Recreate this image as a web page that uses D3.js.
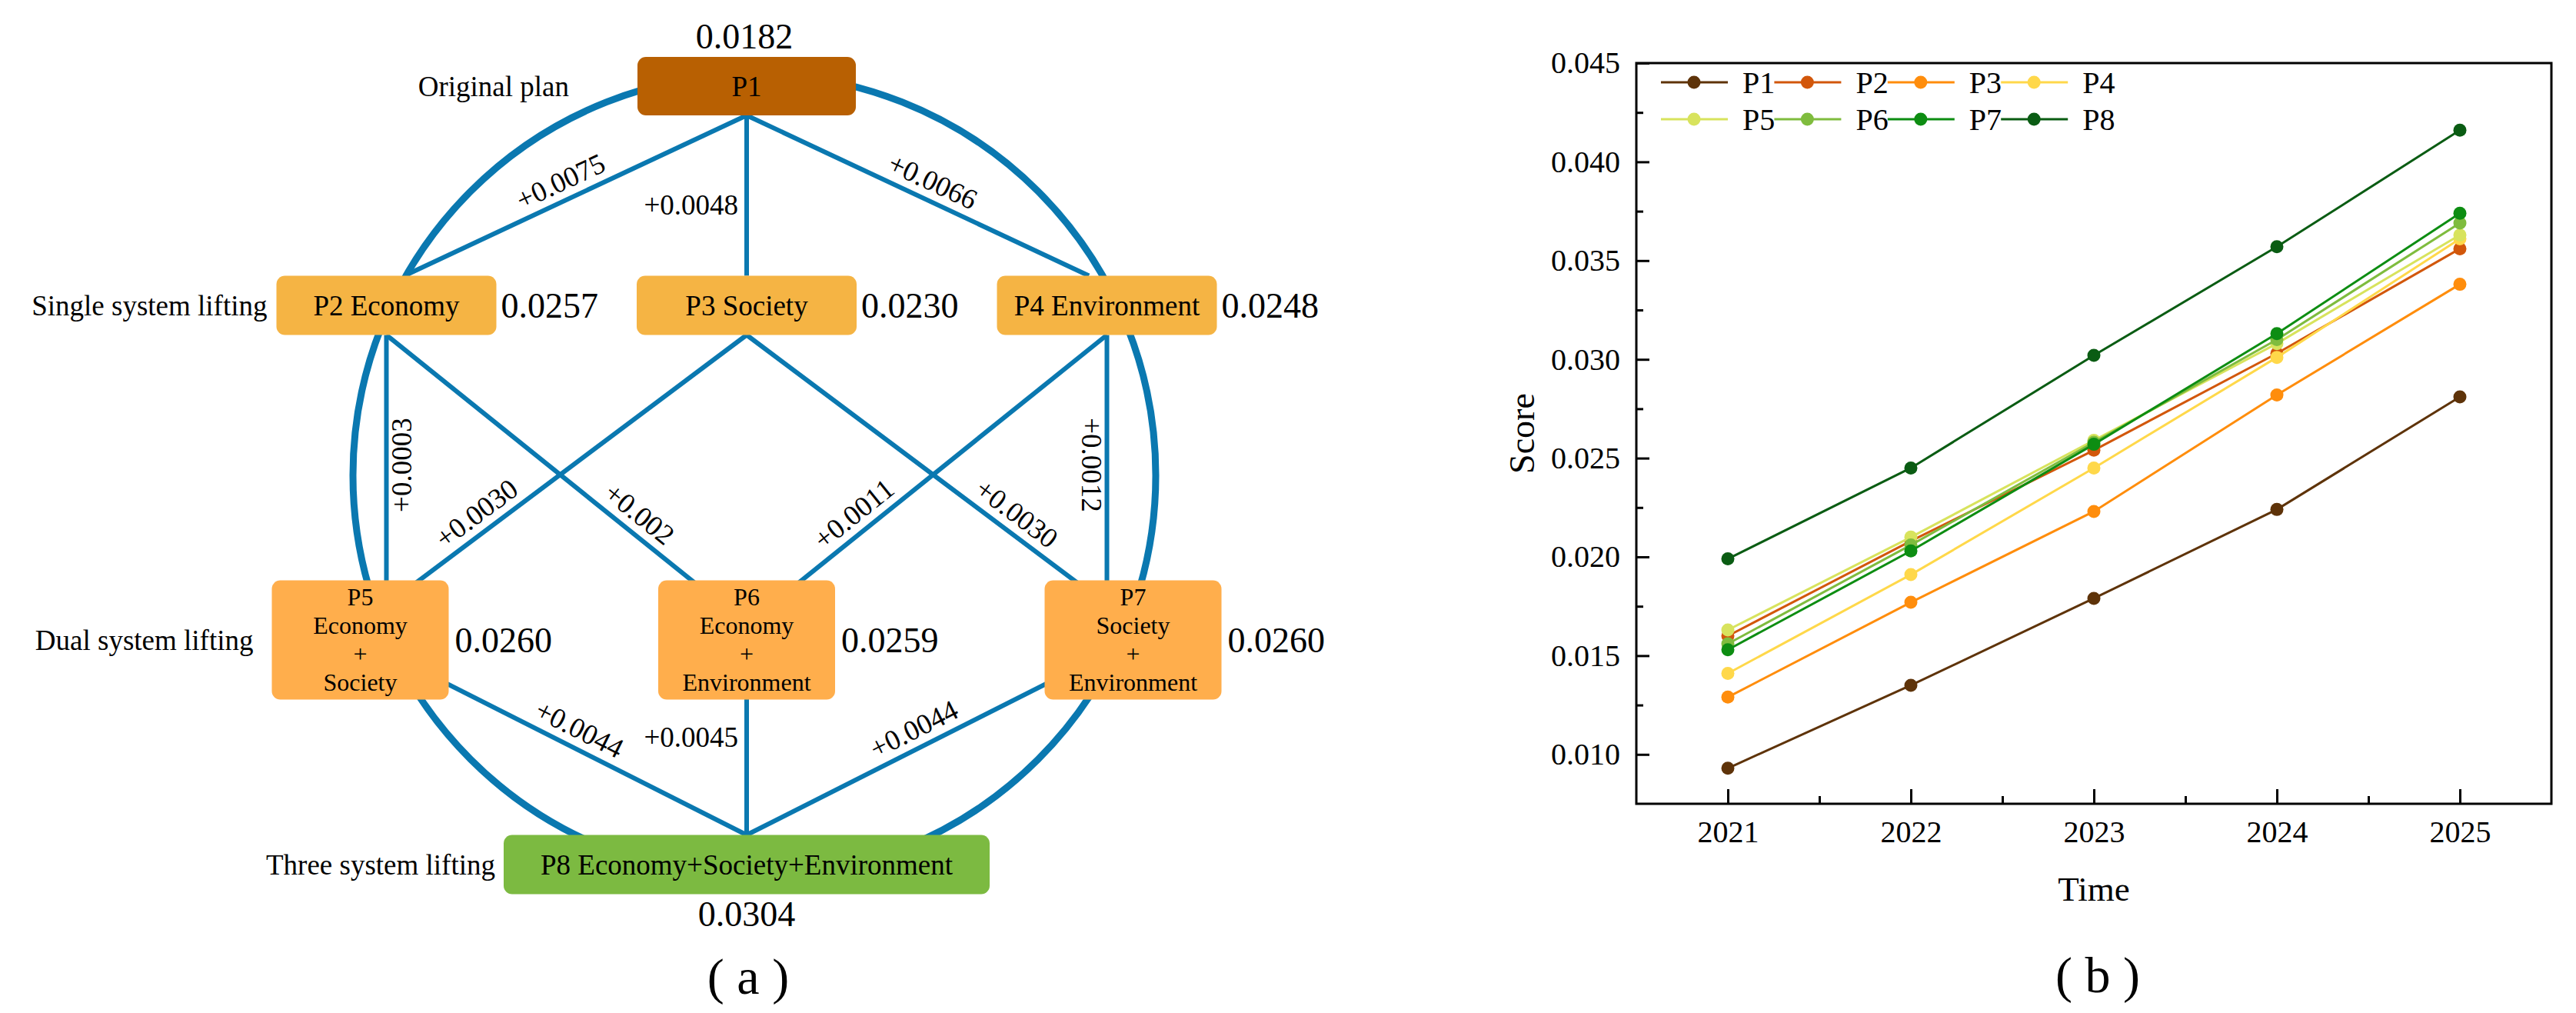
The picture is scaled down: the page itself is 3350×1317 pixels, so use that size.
<!DOCTYPE html>
<html>
  <head>
    <meta charset="utf-8">
    <title>Lifting plans and scores</title>
    <script src="https://cdnjs.cloudflare.com/ajax/libs/d3/7.8.5/d3.min.js"></script>
    <style>
      body { margin: 0; background: #fff; }
      text { font-family: "Liberation Serif", "Times New Roman", serif; fill: #000; }
    </style>
  </head>
  <body>
    <svg id="chart" width="3350" height="1317"></svg>
    <script>

// ---- (a) plan diagram data ----
var plans      = ["P1", "P2", "P3", "P4", "P5", "P6", "P7", "P8"];
var planLevel  = [0, 1, 1, 1, 2, 2, 2, 3];
var planCol    = [1, 0, 1, 2, 0, 1, 2, 1];
var planText   = [["P1"], ["P2 Economy"], ["P3 Society"], ["P4 Environment"],
                  ["P5", "Economy", "+", "Society"],
                  ["P6", "Economy", "+", "Environment"],
                  ["P7", "Society", "+", "Environment"],
                  ["P8 Economy+Society+Environment"]];
var planScore  = ["0.0182", "0.0257", "0.0230", "0.0248", "0.0260", "0.0259", "0.0260", "0.0304"];
var levelNames = ["Original plan", "Single system lifting", "Dual system lifting", "Three system lifting"];
var links = [
  ["P1", "P2", "+0.0075"], ["P1", "P3", "+0.0048"], ["P1", "P4", "+0.0066"],
  ["P2", "P5", "+0.0003"], ["P2", "P6", "+0.002"],
  ["P3", "P5", "+0.0030"], ["P3", "P7", "+0.0030"],
  ["P4", "P6", "+0.0011"], ["P4", "P7", "+0.0012"],
  ["P5", "P8", "+0.0044"], ["P6", "P8", "+0.0045"], ["P7", "P8", "+0.0044"]
];

// ---- (b) score lines data ----
var years  = [2021, 2022, 2023, 2024, 2025];
var scoreP1 = [0.0093, 0.0135, 0.0179, 0.0224, 0.0281];
var scoreP2 = [0.0160, 0.0208, 0.0254, 0.0303, 0.0356];
var scoreP3 = [0.0129, 0.0177, 0.0223, 0.0282, 0.0338];
var scoreP4 = [0.0141, 0.0191, 0.0245, 0.0301, 0.0361];
var scoreP5 = [0.0163, 0.0210, 0.0259, 0.0308, 0.0363];
var scoreP6 = [0.0156, 0.0206, 0.0258, 0.0310, 0.0369];
var scoreP7 = [0.0153, 0.0203, 0.0257, 0.0313, 0.0374];
var scoreP8 = [0.0199, 0.0245, 0.0302, 0.0357, 0.0416];
var seriesNames = ["P1", "P2", "P3", "P4", "P5", "P6", "P7", "P8"];
var seriesColors = ["#5e3309", "#d2570b", "#ff8d0c", "#ffd84a", "#d8e35d", "#7fbc3e", "#0d8d12", "#0a5c13"];
var yTicks = [0.010, 0.015, 0.020, 0.025, 0.030, 0.035, 0.040, 0.045];
var yMinor = [0.0125, 0.0175, 0.0225, 0.0275, 0.0325, 0.0375, 0.0425];
var xMinor = [2021.5, 2022.5, 2023.5, 2024.5];

var svg = d3.select("#chart");
svg.append("rect").attr("width", 3350).attr("height", 1317).attr("fill", "#fff");

drawPlans();
drawScores();

/*
 * (a) plan network
 */
function drawPlans () {
    var g = svg.append("g");
    var blue = "#0a78b0";
    var rowY   = d3.scaleOrdinal().domain([0, 1, 2, 3]).range([112, 397, 832, 1124]);
    var boxW   = [284, 286, 230, 632];
    var boxH   = [76, 77, 155, 77];
    var spread = [0, 468.5, 502.5, 0];
    var fills  = ["#b86002", "#f5b444", "#ffae4c", "#7cba41"];
    var labelGap = [89, 12, 24, 11];

    var nodes = plans.map(function(p, i) {
        var lv = planLevel[i];
        var col = d3.scaleLinear().domain([0, 2]).range([971 - spread[lv], 971 + spread[lv]]);
        return {id: p, level: lv, col: planCol[i], cx: col(planCol[i]), cy: rowY(lv),
                w: boxW[lv], h: boxH[lv], text: planText[i], score: planScore[i]};
    });
    var byId = {};
    nodes.forEach(function(n) { byId[n.id] = n; });

    // outer ring
    var top = byId.P1, bot = byId.P8;
    g.append("circle")
        .attr("cx", top.cx + 10)
        .attr("cy", (top.cy + bot.cy) / 2)
        .attr("r", 522)
        .attr("fill", "none")
        .attr("stroke", blue)
        .attr("stroke-width", 9);

    // exit point of a ray from p toward q out of box n
    function exitBox (p, q, n) {
        var dx = q[0] - p[0], dy = q[1] - p[1], s = Infinity;
        if (dx > 0) s = Math.min(s, (n.cx + n.w / 2 - p[0]) / dx);
        if (dx < 0) s = Math.min(s, (n.cx - n.w / 2 - p[0]) / dx);
        if (dy > 0) s = Math.min(s, (n.cy + n.h / 2 - p[1]) / dy);
        if (dy < 0) s = Math.min(s, (n.cy - n.h / 2 - p[1]) / dy);
        return [p[0] + s * dx, p[1] + s * dy];
    }

    var tSlant = [0.52, 0.79, 0.41];
    var tVert  = [0.56, 0.53, 0.28];

    links.forEach(function(l) {
        var s = byId[l[0]], t = byId[l[1]];
        var sp = s.level == 2 ? [s.cx, s.cy] : [s.cx, s.cy + s.h / 2];
        var tp;
        if (t.level == 2) tp = [t.cx, t.cy - 20];
        else if (t.level == 1) tp = [t.cx + 0.05 * (s.cx - t.cx), t.cy - t.h / 2];
        else tp = [t.cx, t.cy - t.h / 2];
        var vertical = Math.abs(s.cx - t.cx) < t.w / 2;
        if (vertical) tp[0] = sp[0];
        var a = s.level == 2 ? exitBox(sp, tp, s) : sp;
        var b = t.level == 2 ? exitBox(tp, sp, t) : tp;

        g.append("line")
            .attr("x1", sp[0]).attr("y1", sp[1])
            .attr("x2", tp[0]).attr("y2", tp[1])
            .attr("stroke", blue)
            .attr("stroke-width", 6);

        var f = vertical ? tVert[s.level] : tSlant[s.level];
        var m = [a[0] + f * (b[0] - a[0]), a[1] + f * (b[1] - a[1])];
        var txt = g.append("text")
            .attr("font-size", 37)
            .attr("dy", "0.34em")
            .text(l[2]);
        if (vertical) {
            if (s.col == 1) {
                txt.attr("x", m[0] - 11).attr("y", m[1]).attr("text-anchor", "end");
            } else {
                var side = s.col == 0 ? 1 : -1;
                txt.attr("text-anchor", "middle")
                    .attr("transform", "translate(" + (m[0] + side * 20) + "," + m[1] + ") rotate(" + (-90 * side) + ")");
            }
        } else {
            var dx = b[0] - a[0], dy = b[1] - a[1], len = Math.hypot(dx, dy);
            var nx = dy / len, ny = -dx / len;
            if (ny > 0) { nx = -nx; ny = -ny; }
            var ang = Math.atan2(dy, dx) * 180 / Math.PI;
            if (ang > 90) ang -= 180;
            if (ang < -90) ang += 180;
            txt.attr("text-anchor", "middle")
                .attr("transform", "translate(" + (m[0] + 25 * nx) + "," + (m[1] + 25 * ny) + ") rotate(" + ang + ")");
        }
    });

    // boxes
    var box = g.selectAll("g.node").data(nodes).enter()
        .append("g").attr("class", "node");
    box.append("rect")
        .attr("x", function(d) { return d.cx - d.w / 2; })
        .attr("y", function(d) { return d.cy - d.h / 2; })
        .attr("width", function(d) { return d.w; })
        .attr("height", function(d) { return d.h; })
        .attr("rx", 11)
        .attr("fill", function(d) { return fills[d.level]; });
    box.each(function(d) {
        var sel = d3.select(this);
        var n = d.text.length;
        // stacked lines get a slightly smaller size so they do not collide
        var fs = n > 1 ? 32 : 37, step = 37;
        var label = sel.append("text")
            .attr("text-anchor", "middle")
            .attr("font-size", fs);
        d.text.forEach(function(t, i) {
            label.append("tspan")
                .attr("x", d.cx)
                .attr("y", d.cy + (i - (n - 1) / 2) * step)
                .attr("dy", "0.34em")
                .text(t);
        });
        // score values
        var v = sel.append("text").attr("font-size", 46).text(d.score);
        if (d.level == 0) {
            v.attr("x", d.cx - 3).attr("y", d.cy - d.h / 2 - 11).attr("text-anchor", "middle");
        } else if (d.level == 3) {
            v.attr("x", d.cx).attr("y", d.cy + d.h / 2 + 41).attr("text-anchor", "middle");
        } else {
            v.attr("x", d.cx + d.w / 2 + (d.level == 1 ? 6 : 8)).attr("y", d.cy).attr("dy", "0.34em");
        }
    });

    // level names
    levelNames.forEach(function(name, lv) {
        var first = nodes.filter(function(n) { return n.level == lv; })[0];
        g.append("text")
            .attr("x", first.cx - first.w / 2 - labelGap[lv])
            .attr("y", first.cy)
            .attr("dy", "0.34em")
            .attr("text-anchor", "end")
            .attr("font-size", 37)
            .text(name);
    });

    g.append("text")
        .attr("x", 973).attr("y", 1270).attr("dy", "0.34em")
        .attr("text-anchor", "middle")
        .attr("font-size", 66)
        .text("( a )");
}

/*
 * (b) score over time
 */
function drawScores () {
    var left = 2128, right = 3318, top = 82, bottom = 1045;
    var x = d3.scaleLinear().domain([2020.5, 2025.5]).range([left, right]);
    var y = d3.scaleLinear().domain([0.0075, 0.045]).range([bottom, top]);
    var g = svg.append("g");
    var series = [scoreP1, scoreP2, scoreP3, scoreP4, scoreP5, scoreP6, scoreP7, scoreP8];

    function styleAxis (a) {
        a.select(".domain").remove();
        a.selectAll("line").attr("stroke", "#000").attr("stroke-width", 3);
        a.selectAll("text").attr("font-size", 40)
            .attr("font-family", "Liberation Serif, Times New Roman, serif").attr("fill", "#000");
    }

    g.append("g").attr("transform", "translate(0," + bottom + ")")
        .call(d3.axisBottom(x).tickValues(years).tickFormat(d3.format("d"))
              .tickSizeInner(-19).tickSizeOuter(0).tickPadding(22))
        .call(styleAxis);
    g.append("g").attr("transform", "translate(0," + bottom + ")")
        .call(d3.axisBottom(x).tickValues(xMinor).tickFormat("").tickSizeInner(-10).tickSizeOuter(0))
        .call(styleAxis);
    g.append("g").attr("transform", "translate(" + left + ",0)")
        .call(d3.axisLeft(y).tickValues(yTicks).tickFormat(d3.format(".3f"))
              .tickSizeInner(-17).tickSizeOuter(0).tickPadding(21))
        .call(styleAxis);
    g.append("g").attr("transform", "translate(" + left + ",0)")
        .call(d3.axisLeft(y).tickValues(yMinor).tickFormat("").tickSizeInner(-9).tickSizeOuter(0))
        .call(styleAxis);

    g.append("rect")
        .attr("x", left).attr("y", top)
        .attr("width", right - left).attr("height", bottom - top)
        .attr("fill", "none").attr("stroke", "#000").attr("stroke-width", 3);

    var line = d3.line()
        .x(function(d, i) { return x(years[i]); })
        .y(function(d) { return y(d); });

    series.forEach(function(s, k) {
        g.append("path")
            .attr("d", line(s))
            .attr("fill", "none")
            .attr("stroke", seriesColors[k])
            .attr("stroke-width", 3);
        g.selectAll(null).data(s).enter().append("circle")
            .attr("cx", function(d, i) { return x(years[i]); })
            .attr("cy", function(d) { return y(d); })
            .attr("r", 8.5)
            .attr("fill", seriesColors[k]);
    });

    // legend, 4 per row
    seriesNames.forEach(function(name, k) {
        var mx = 2203 + (k % 4) * 147.4, my = 107 + Math.floor(k / 4) * 48;
        g.append("line")
            .attr("x1", mx - 43).attr("x2", mx + 44)
            .attr("y1", my).attr("y2", my)
            .attr("stroke", seriesColors[k]).attr("stroke-width", 3);
        g.append("circle").attr("cx", mx).attr("cy", my).attr("r", 8.5).attr("fill", seriesColors[k]);
        g.append("text")
            .attr("x", mx + 63).attr("y", my).attr("dy", "0.34em")
            .attr("font-size", 40)
            .text(name);
    });

    g.append("text")
        .attr("transform", "translate(1979," + (top + bottom) / 2 + ") rotate(-90)")
        .attr("dy", "0.34em")
        .attr("text-anchor", "middle")
        .attr("font-size", 46)
        .text("Score");
    g.append("text")
        .attr("x", (left + right) / 2).attr("y", 1156).attr("dy", "0.34em")
        .attr("text-anchor", "middle")
        .attr("font-size", 45)
        .text("Time");
    g.append("text")
        .attr("x", (left + right) / 2 + 5).attr("y", 1268).attr("dy", "0.34em")
        .attr("text-anchor", "middle")
        .attr("font-size", 66)
        .text("( b )");
}

    </script>
  </body>
</html>
